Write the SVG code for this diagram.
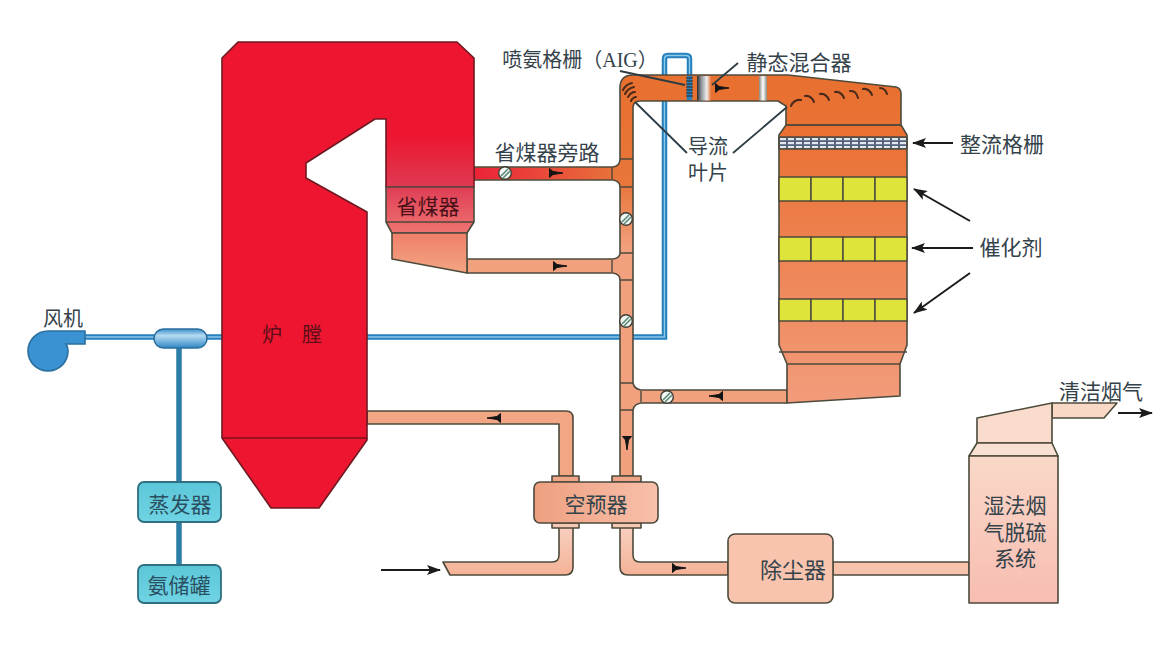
<svg xmlns="http://www.w3.org/2000/svg" width="1158" height="660" viewBox="0 0 1158 660">
<style>
text{font-family:"Noto Sans CJK SC","Liberation Sans",sans-serif;fill:#34424a;font-size:20px;text-anchor:middle;dominant-baseline:central}
text.ml{font-family:"Liberation Sans","Noto Sans CJK SC",sans-serif}
.n{stroke:#4d4a3c;stroke-width:1.6;stroke-linejoin:round}
.r{stroke:#6e1a22;stroke-width:1.6;stroke-linejoin:round}
.o{fill:none;stroke:#4d4a3c;stroke-width:1.6;stroke-linejoin:round}
.l{fill:none;stroke:#4d4a3c;stroke-width:1.4}
.lead{fill:none;stroke:#2e3c44;stroke-width:1.8}
.arr{fill:none;stroke:#1c1c1c;stroke-width:2;marker-end:url(#ah)}
.v{fill:none;stroke:#4a2a1a;stroke-width:2;stroke-linecap:round}
.cat{fill:#dfe43a;stroke:#4d4a3c;stroke-width:1.5}
.blue{fill:none;stroke:#2580bd;stroke-width:5.5}
.bluei{fill:none;stroke:#8cc8ea;stroke-width:1.4}
.amm{fill:none;stroke:#2d7ea6;stroke-width:5.5}
.teal{fill:url(#gTeal);stroke:#2f6f80;stroke-width:1.8}
</style>
<defs>
<marker id="ah" viewBox="0 0 14 10" refX="13" refY="5" markerWidth="14" markerHeight="10" markerUnits="userSpaceOnUse" orient="auto"><path d="M0 0L14 5L0 10L3 5Z" fill="#1c1c1c"/></marker>
<linearGradient id="gFlue" gradientUnits="userSpaceOnUse" x1="0" y1="75" x2="0" y2="250"><stop offset="0" stop-color="#e8702f"/><stop offset=".62" stop-color="#e8763a"/><stop offset="1" stop-color="#f2a17f"/></linearGradient>
<linearGradient id="gByp" gradientUnits="userSpaceOnUse" x1="474" y1="0" x2="610" y2="0"><stop offset="0" stop-color="#ec2238"/><stop offset="1" stop-color="#e8703a"/></linearGradient>
<linearGradient id="gReact" gradientUnits="userSpaceOnUse" x1="0" y1="125" x2="0" y2="404"><stop offset="0" stop-color="#ea6f30"/><stop offset="1" stop-color="#f29c7c"/></linearGradient>
<linearGradient id="gPass" x1="0" y1="0" x2="0" y2="1"><stop offset="0" stop-color="#ee1530"/><stop offset="1" stop-color="#de3a52"/></linearGradient>
<linearGradient id="gEco" x1="0" y1="0" x2="0" y2="1"><stop offset="0" stop-color="#df3d55"/><stop offset="1" stop-color="#ee7470"/></linearGradient>
<linearGradient id="gHop" x1="0" y1="0" x2="0" y2="1"><stop offset="0" stop-color="#ef7f68"/><stop offset="1" stop-color="#f2a684"/></linearGradient>
<linearGradient id="gAph" x1="0" y1="0" x2="1" y2="0"><stop offset="0" stop-color="#ee9f80"/><stop offset="1" stop-color="#f8c0aa"/></linearGradient>
<linearGradient id="gLow" gradientUnits="userSpaceOnUse" x1="0" y1="527" x2="0" y2="575"><stop offset="0" stop-color="#f8cfc0"/><stop offset="1" stop-color="#f4b296"/></linearGradient>
<linearGradient id="gFgd" x1="0" y1="0" x2="0" y2="1"><stop offset="0" stop-color="#f9d8c8"/><stop offset="1" stop-color="#f8bdb2"/></linearGradient>
<linearGradient id="gTeal" x1="0" y1="0" x2="0" y2="1"><stop offset="0" stop-color="#5cc6d8"/><stop offset="1" stop-color="#6fd4e4"/></linearGradient>
<linearGradient id="gCap" x1="0" y1="0" x2="0" y2="1"><stop offset="0" stop-color="#3b8ecb"/><stop offset=".35" stop-color="#b5dcf2"/><stop offset="1" stop-color="#2f86c4"/></linearGradient>
<linearGradient id="gMix" x1="0" y1="0" x2="1" y2="0"><stop offset="0" stop-color="#2a2a2a"/><stop offset=".3" stop-color="#8d9298"/><stop offset=".7" stop-color="#eeeeee"/><stop offset="1" stop-color="#e8763a"/></linearGradient>
<linearGradient id="gMix2" x1="0" y1="0" x2="1" y2="0"><stop offset="0" stop-color="#8a8a80"/><stop offset=".5" stop-color="#ffffff"/><stop offset="1" stop-color="#8a8a80"/></linearGradient>
<pattern id="gGrid" width="8" height="4" patternUnits="userSpaceOnUse" x="779" y="137"><rect width="8" height="4" fill="#56657c"/><rect x="1" y="1" width="6" height="2.2" fill="#e4e8ee"/></pattern>
<path id="flue" d="M620 476V280Q620 274 613 273H467V259H613Q620 258 620 253V187Q620 181 613 180H474V167H613Q620 166 620 159V88Q620 75 633 75H788L896 87Q901 88 901 94V127H786V106L778 101H640Q633 101 633 108V383Q634 389 641 390H787V403H641Q634 404 633 410V476Z"/>
<g id="valve"><circle r="6.3" fill="#f4f8f4" stroke="#3c3c34" stroke-width="1.4"/><path d="M-4 3L3 -4M-2 5L5 -2" stroke="#5b8b78" stroke-width="1.6"/></g>
<path id="flow" d="M-6.5 -4.5L-3 -1.500L7 0L-3 1.500L-6.500 4.500Z" fill="#141414" stroke="#141414" stroke-width="1"/>
</defs>
<rect width="1158" height="660" fill="#fff"/>

<g id="connectors">
<path class="blue" d="M85 337H154M207 337H222M367 337H664.500V59Q664.500 55.500 668 55.500H686Q689.500 55.500 689.500 59V100"/>
<path class="bluei" d="M85 337H154M207 337H222M367 337H664.500V59Q664.500 55.500 668 55.500H686Q689.500 55.500 689.500 59V100"/>
<path class="amm" d="M179 348V482M179 522V565"/>
<use href="#flue" fill="url(#gFlue)"/>
<rect x="474" y="167.500" width="140" height="12" fill="url(#gByp)"/>
<use href="#flue" class="o"/>
<path class="l" d="M620 159H633M620 187H633M620 253H633M620 280H633M612 168V179M612 260V272M620 383H633M620 410H633M641 391V402"/>
<path class="blue" d="M689.500 76V100"/>
<path d="M686 78H693M686 81H693M686 84H693M686 87H693M686 90H693M686 93H693M686 96H693" stroke="#33261c" stroke-width="1"/>
<rect x="697" y="76" width="14" height="24.500" fill="url(#gMix)"/>
<rect x="759" y="76" width="8" height="24.500" fill="url(#gMix2)"/>
<path class="v" d="M623 90Q626 84 632 83M625 94Q628 88 634 87M628 97Q631 92 635 92M631 101Q633 97 636 97"/>
<path class="v" d="M791 106Q794 99 801 100M805 96Q811 95 814 102M820 94Q826 93 829 100M835 92Q841 91 844 98M850 91Q856 90 858 98M863 89Q869 88 872 95M880 88Q885 88 887 94"/>
<path d="M367 411H566Q573 411 573 418V476H559V424H367Z" fill="#f2a684" class="n"/>
<path d="M559 527H573V567Q573 575 565 575H450L443 562H552Q559 562 559 555Z" fill="url(#gLow)" class="n"/>
<path d="M620 527H633V555Q633 562 640 562H728V575H628Q620 575 620 567Z" fill="url(#gLow)" class="n"/>
<rect x="833" y="562" width="136" height="13" fill="#f7c3ac" class="n"/>
<path d="M1052 403H1117L1104 418H1052Z" fill="#f9d8c6" class="n"/>
<use href="#valve" x="505" y="173"/>
<use href="#valve" x="626" y="219"/>
<use href="#valve" x="626" y="321"/>
<use href="#valve" x="667" y="397"/>
<use href="#flow" transform="translate(556 173)"/>
<use href="#flow" transform="translate(560 266)"/>
<use href="#flow" transform="translate(722 88)"/>
<use href="#flow" transform="translate(716 396) rotate(180)"/>
<use href="#flow" transform="translate(627 443) rotate(90)"/>
<use href="#flow" transform="translate(494 418) rotate(180)"/>
<use href="#flow" transform="translate(679 568)"/>
<path class="lead" d="M620 71L685 85M738 63L712 85M687 153L635 102M733 153L787 107"/>
<path class="arr" d="M381 570H440"/>
<path class="arr" d="M953 143H913"/>
<path class="arr" d="M970 221L914 189"/>
<path class="arr" d="M973 248H912"/>
<path class="arr" d="M970 273L914 313"/>
<path class="arr" d="M1118 413H1152"/>
</g>

<g id="furnace">
<path class="r" fill="#ee1530" d="M238 42H457L474 58V187H386V119H375L306 163V178L367 212V440L319 508H271L222 438V58Z"/>
<rect x="387" y="135" width="86.200" height="51.500" fill="url(#gPass)"/>
<path d="M222 438H367" stroke="#7c0f1c" stroke-width="1.6"/>
<text x="292" y="333" style="fill:#5c0f18">炉　膛</text>
</g>

<g id="economizer">
<path class="n" fill="url(#gEco)" d="M386 187H474V222L467 233H392L386 222Z"/>
<path class="n" fill="none" d="M386 222H474"/>
<text x="428" y="205" style="fill:#4a1018;font-size:21px">省煤器</text>
</g>
<g id="economizer-hopper"><path class="n" fill="url(#gHop)" d="M392 233H467V273L392 259Z"/></g>

<g id="reactor">
<path class="n" fill="url(#gReact)" d="M786 125H901L907 135V345L900 364V396L787 403V364L779 345V135Z"/>
<rect x="779" y="137" width="128" height="12" fill="url(#gGrid)" class="n"/>
<path class="l" d="M786 125H901M779 352H907M787 364H900"/>
<rect class="cat" x="779" y="177" width="32" height="24"/><rect class="cat" x="811" y="177" width="32" height="24"/><rect class="cat" x="843" y="177" width="32" height="24"/><rect class="cat" x="875" y="177" width="32" height="24"/>
<rect class="cat" x="779" y="237" width="32" height="24"/><rect class="cat" x="811" y="237" width="32" height="24"/><rect class="cat" x="843" y="237" width="32" height="24"/><rect class="cat" x="875" y="237" width="32" height="24"/>
<rect class="cat" x="779" y="299" width="32" height="22"/><rect class="cat" x="811" y="299" width="32" height="22"/><rect class="cat" x="843" y="299" width="32" height="22"/><rect class="cat" x="875" y="299" width="32" height="22"/>
</g>

<g id="air-preheater">
<rect class="n" x="552" y="476" width="27" height="6" fill="#eea487"/><rect class="n" x="612" y="476" width="29" height="6" fill="#eea487"/>
<rect class="n" x="552" y="523" width="27" height="5" fill="#f6c8b4"/><rect class="n" x="612" y="523" width="29" height="5" fill="#f6c8b4"/>
<rect class="n" x="534" y="482" width="124" height="41" rx="6" fill="url(#gAph)"/>
<text x="596" y="503" style="font-size:21px">空预器</text>
</g>

<g id="dust-collector">
<rect class="n" x="728" y="534" width="105" height="69" rx="7" fill="#f8c4ae"/>
<text x="793" y="568" style="font-size:22px">除尘器</text>
</g>

<g id="fgd">
<path class="n" fill="#f9dccb" d="M977 443V418L1052 403V443Z"/>
<path class="n" fill="#fae0d2" d="M977 443H1052L1058 456H969Z"/>
<rect class="n" x="969" y="456" width="89" height="147" fill="url(#gFgd)"/>
<text class="ml" y="505" style="font-size:21px"><tspan x="1015">湿法烟</tspan><tspan x="1015" dy="26.500">气脱硫</tspan><tspan x="1015" dy="26.500">系统</tspan></text>
</g>

<g id="fan">
<path d="M85 331H48A20 20 0 1 0 68 351Q68 347 66 344H85Z" fill="#3b92d2" stroke="#2a6f9e" stroke-width="1.6"/>
<text x="63" y="317">风机</text>
</g>
<g id="ammonia-mixer"><rect x="154" y="329" width="53" height="19" rx="9.500" fill="url(#gCap)" stroke="#2a6f9e" stroke-width="1.6"/></g>
<g id="evaporator"><rect class="teal" x="138" y="482" width="83" height="40" rx="6"/><text x="180" y="503" style="font-size:21px;fill:#2a4f60">蒸发器</text></g>
<g id="ammonia-tank"><rect class="teal" x="138" y="565" width="83" height="38" rx="6"/><text x="179" y="584" style="font-size:21px;fill:#2a4f60">氨储罐</text></g>

<g id="labels">
<text x="580" y="60" style="font-size:20px;font-family:'Liberation Serif','Noto Sans CJK SC',serif">喷氨格栅（AIG）</text>
<text x="799" y="61" style="font-size:21px">静态混合器</text>
<text x="547" y="151" style="font-size:21px">省煤器旁路</text>
<text class="ml" y="147"><tspan x="708">导流</tspan><tspan x="708" dy="26">叶片</tspan></text>
<text x="1002" y="143" style="font-size:21px">整流格栅</text>
<text x="1011" y="246" style="font-size:21px">催化剂</text>
<text x="1101" y="390" style="font-size:21px">清洁烟气</text>
</g>
</svg>
